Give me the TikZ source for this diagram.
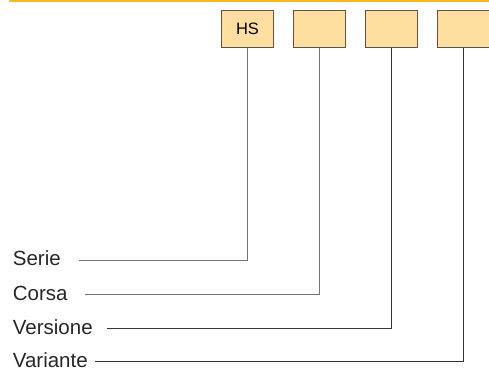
\documentclass[tikz,border=0pt]{standalone}
\usepackage{fontspec}
\setmainfont{Liberation Sans}
\definecolor{codeorange}{HTML}{F9B81C}
\definecolor{codefill}{HTML}{FFDFA0}
\definecolor{codeline}{HTML}{555555}
\tikzset{
    codebox/.style={draw=codeline, fill=codefill, line width=0.9pt,
        minimum width=51.6pt, minimum height=37pt, inner sep=0pt,
        font=\fontsize{16.5}{19}\selectfont},
    codelabel/.style={anchor=base west, inner sep=0pt,
        font=\fontsize{20.5}{23}\selectfont, text=black!85},
    lead/.style={line width=0.9pt, draw=#1},
    lead/.default=black!80
}
\begin{document}
\begin{tikzpicture}[x=1pt, y=1pt]
    \useasboundingbox (0,0) rectangle (489,367);

    % Top rule
    \draw[codeorange, line width=2.2pt] (9,366) -- (489,366);

    % Code boxes
    \node[codebox] (serieb)    at (247.5,337.8) {HS};
    \node[codebox] (corsab)    at (319.5,337.8) {};
    \node[codebox] (versioneb) at (391.5,337.8) {};
    \node[codebox] (varianteb) at (463.5,337.8) {};

    % Labels
    \node[codelabel] (serie)    at (12.7,102) {Serie};
    \node[codelabel] (corsa)    at (12.7,67)  {Corsa};
    \node[codelabel] (versione) at (12.7,33)  {Versione};
    \node[codelabel] (variante) at (12.7,0)   {Variante};

    % Line ends
    \coordinate (seriee)    at (79,107);
    \coordinate (corsae)    at (85,73);
    \coordinate (versionee) at (107.3,38.7);
    \coordinate (variantee) at (95,5.3);

    % Leaders
    \draw[lead=gray!90!black] (serieb.south) |- (seriee);
    \draw[lead=gray!90!black] (corsab.south) |- (corsae);
    \draw[lead] (versioneb.south) |- (versionee);
    \draw[lead] (varianteb.south) |- (variantee);

\end{tikzpicture}
\end{document}
